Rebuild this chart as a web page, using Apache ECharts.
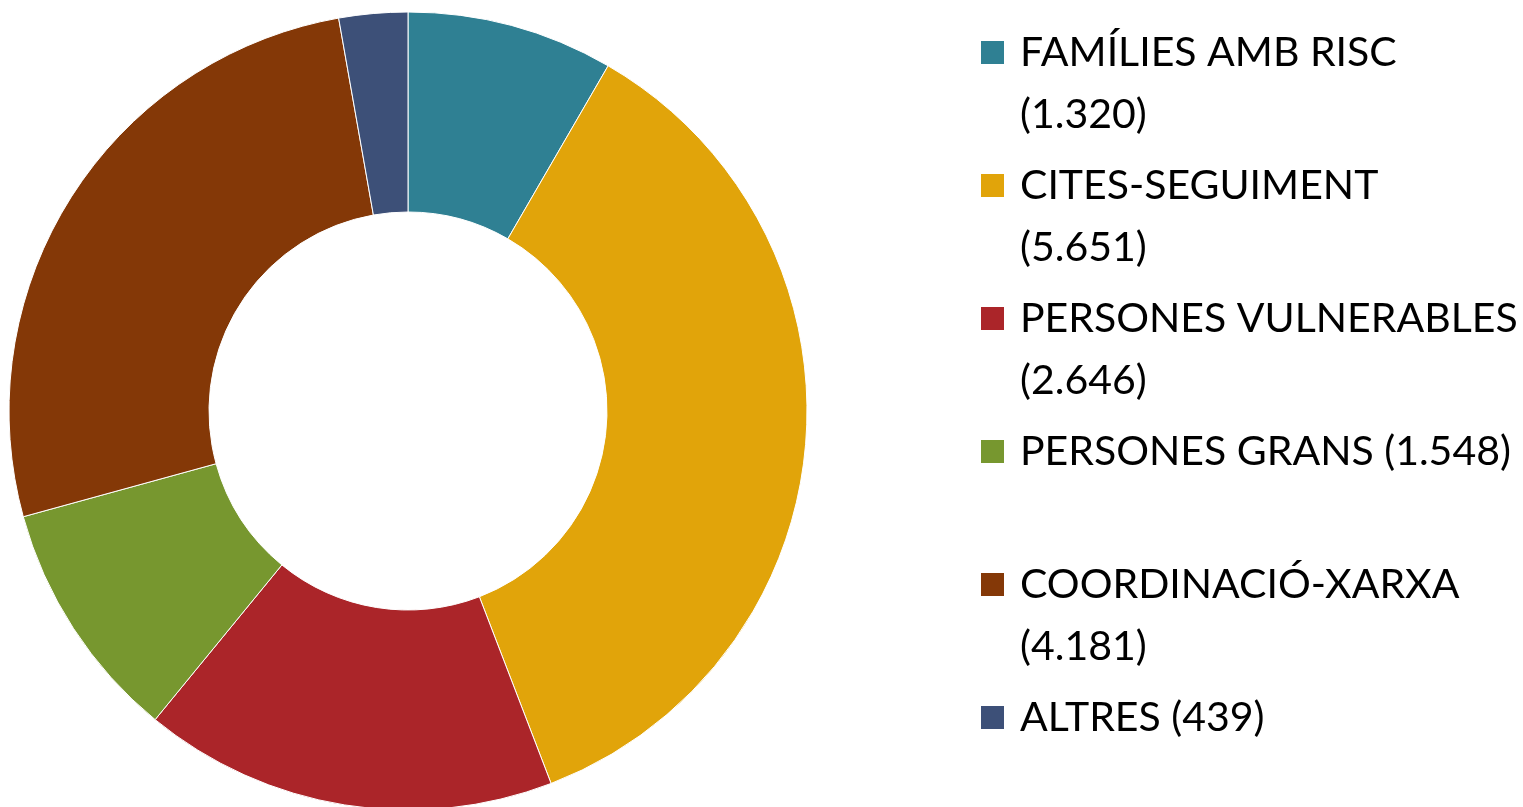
<!DOCTYPE html>
<html>
<head>
<meta charset="utf-8">
<script src="https://cdn.jsdelivr.net/npm/echarts@6/dist/echarts.min.js"></script>
<style>html,body{margin:0;padding:0;background:#fff}#c{width:1523px;height:807px}</style>
</head>
<body>
<div id="c"></div>
<script>
var categories = ['FAMÍLIES AMB RISC', 'CITES-SEGUIMENT', 'PERSONES VULNERABLES', 'PERSONES GRANS', 'COORDINACIÓ-XARXA', 'ALTRES'];
var values = [1320, 5651, 2646, 1548, 4181, 439];
var colors = ['#2F8093', '#E1A40A', '#AB2529', '#77972F', '#843807', '#3D5078'];
var wrapValue = [true, true, true, false, true, false];

function fmt(v) { return String(v).replace(/\B(?=(\d{3})+(?!\d))/g, '.'); }

var chart = echarts.init(document.getElementById('c'), null, {renderer: 'canvas'});
chart.setOption({
  animation: false,
  color: colors,
  legend: {
    orient: 'vertical',
    left: 979,
    top: -40.5,
    height: 1200,
    padding: 0,
    itemWidth: 25,
    itemHeight: 25,
    itemGap: -53,
    icon: 'rect',
    selectedMode: false,
    data: categories,
    formatter: function (name) {
      var i = categories.indexOf(name);
      var v = '(' + fmt(values[i]) + ')';
      return ' \n' + (wrapValue[i] ? name + '\n' + v : name + ' ' + v + '\n ');
    },
    textStyle: {
      fontFamily: 'Lato',
      fontSize: 41,
      color: '#000',
      lineHeight: 62,
      padding: [0, 0, 0, 10]
    }
  },
  series: [{
    type: 'pie',
    center: [408, 411],
    radius: [199, 399],
    startAngle: 90,
    clockwise: true,
    label: {show: false},
    labelLine: {show: false},
    emphasis: {disabled: true},
    itemStyle: {borderColor: '#ffffff', borderWidth: 1},
    data: categories.map(function (c, i) { return {name: c, value: values[i]}; })
  }]
});
</script>
</body>
</html>
